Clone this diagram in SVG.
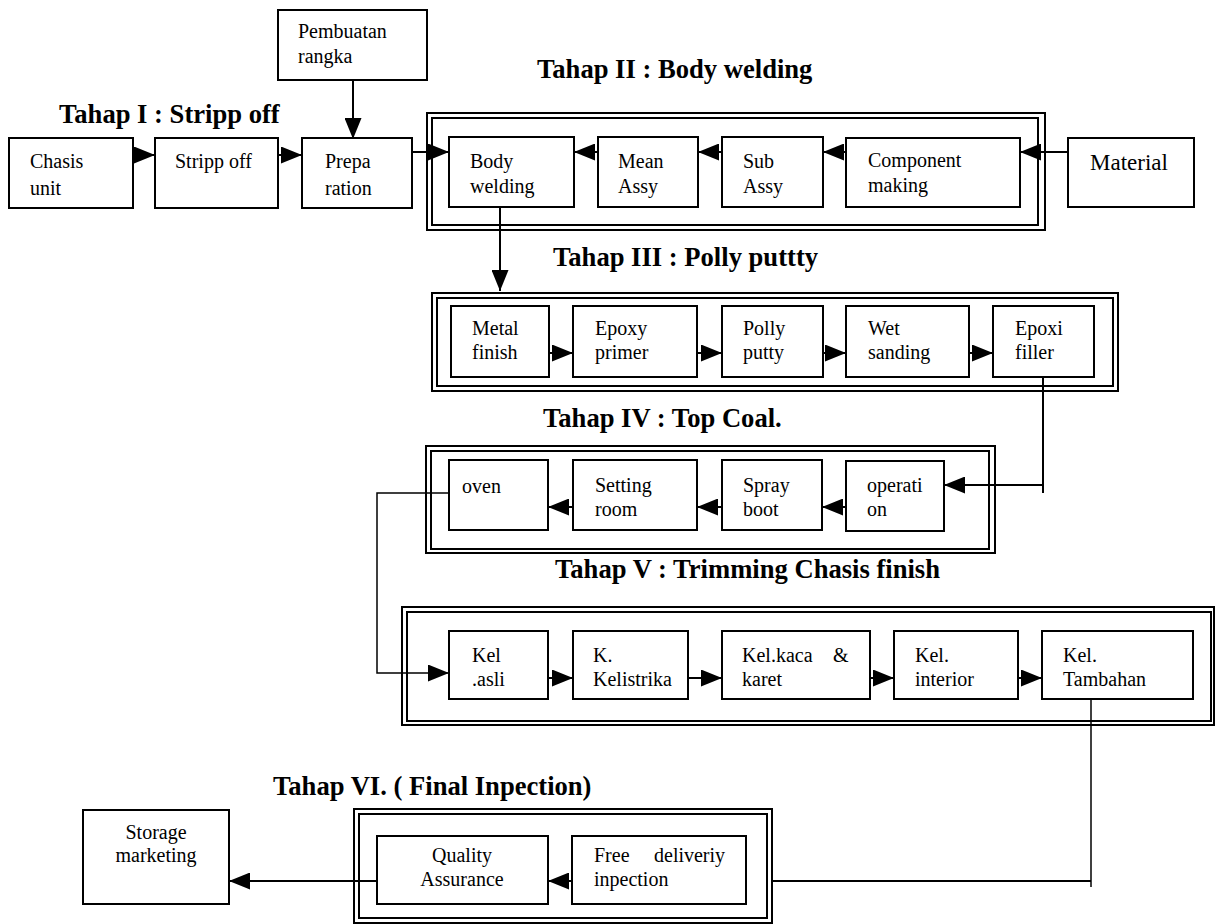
<svg xmlns="http://www.w3.org/2000/svg" width="1216" height="924" viewBox="0 0 1216 924">
  <style>
    .box { fill: #fff; stroke: #000; stroke-width: 2; }
    .frame { fill: none; stroke: #000; stroke-width: 2; }
    .t { font-family: "Liberation Serif", "Times New Roman", serif; font-size: 20px; fill: #000; }
    .big { font-size: 23px; }
    .title { font-family: "Liberation Serif", "Times New Roman", serif; font-size: 26.6px; font-weight: bold; fill: #000; }
    .c { fill: none; stroke: #000; stroke-width: 2; }
    .thin { stroke-width: 1.5; }
  </style>
  <defs>
    <marker id="ah" markerUnits="userSpaceOnUse" markerWidth="21" markerHeight="17" refX="21" refY="8.5" orient="auto">
      <path d="M0,0 L21,8.5 L0,17 z" fill="#000"/>
    </marker>
  </defs>
  <rect width="1216" height="924" fill="#fff"/>

  <!-- stage titles -->
  <g id="titles">
    <text class="title" x="59" y="123">Tahap I : Stripp off</text>
    <text class="title" x="537" y="78">Tahap II : Body welding</text>
    <text class="title" x="553" y="266">Tahap III : Polly puttty</text>
    <text class="title" x="543" y="427">Tahap IV : Top Coal.</text>
    <text class="title" x="555" y="578">Tahap V : Trimming Chasis finish</text>
    <text class="title" x="273" y="795">Tahap VI. ( Final Inpection)</text>
  </g>

  <!-- stage frames (double border) -->
  <g id="frames">
    <rect class="frame" x="427" y="113" width="618" height="117"/>
    <rect class="frame" x="432" y="118" width="606" height="107"/>
    <rect class="frame" x="432" y="293" width="686" height="98"/>
    <rect class="frame" x="437" y="298" width="676" height="88"/>
    <rect class="frame" x="426" y="446" width="569" height="107"/>
    <rect class="frame" x="431" y="451" width="558" height="98"/>
    <rect class="frame" x="402" y="607" width="812" height="118"/>
    <rect class="frame" x="407" y="612" width="804" height="109"/>
    <rect class="frame" x="354" y="809" width="418" height="114"/>
    <rect class="frame" x="359" y="814" width="408" height="104"/>
  </g>

  <!-- connectors -->
  <g id="connectors">
    <line class="c" x1="353" y1="80" x2="353" y2="139" marker-end="url(#ah)"/>
    <line class="c" x1="133" y1="155" x2="155" y2="155" marker-end="url(#ah)"/>
    <line class="c" x1="278" y1="155" x2="302" y2="155" marker-end="url(#ah)"/>
    <line class="c" x1="412" y1="152" x2="449" y2="152" marker-end="url(#ah)"/>
    <line class="c" x1="598" y1="152" x2="574" y2="152" marker-end="url(#ah)"/>
    <line class="c" x1="722" y1="152" x2="698" y2="152" marker-end="url(#ah)"/>
    <line class="c" x1="846" y1="152" x2="823" y2="152" marker-end="url(#ah)"/>
    <line class="c" x1="1068" y1="152" x2="1020" y2="152" marker-end="url(#ah)"/>
    <line class="c" x1="500" y1="207" x2="500" y2="291" marker-end="url(#ah)"/>
    <line class="c" x1="549" y1="353" x2="573" y2="353" marker-end="url(#ah)"/>
    <line class="c" x1="697" y1="353" x2="722" y2="353" marker-end="url(#ah)"/>
    <line class="c" x1="823" y1="353" x2="846" y2="353" marker-end="url(#ah)"/>
    <line class="c" x1="969" y1="353" x2="993" y2="353" marker-end="url(#ah)"/>
    <polyline class="c" points="1043,377 1043,493"/>
    <line class="c" x1="1043" y1="485" x2="944" y2="485" marker-end="url(#ah)"/>
    <line class="c" x1="846" y1="507" x2="822" y2="507" marker-end="url(#ah)"/>
    <line class="c" x1="722" y1="507" x2="697" y2="507" marker-end="url(#ah)"/>
    <line class="c" x1="573" y1="507" x2="548" y2="507" marker-end="url(#ah)"/>
    <polyline class="c thin" points="449,493 377,493 377,673 449,673" marker-end="url(#ah)"/>
    <line class="c" x1="548" y1="678" x2="573" y2="678" marker-end="url(#ah)"/>
    <line class="c" x1="688" y1="678" x2="722" y2="678" marker-end="url(#ah)"/>
    <line class="c" x1="870" y1="678" x2="894" y2="678" marker-end="url(#ah)"/>
    <line class="c" x1="1018" y1="678" x2="1042" y2="678" marker-end="url(#ah)"/>
    <polyline class="c thin" points="1091,699 1091,887"/>
    <line class="c" x1="772" y1="881" x2="1091" y2="881"/>
    <line class="c" x1="572" y1="881" x2="548" y2="881" marker-end="url(#ah)"/>
    <line class="c" x1="377" y1="881" x2="229" y2="881" stroke-width="2.5" marker-end="url(#ah)"/>
  </g>

  <!-- stage I -->
  <g id="n-pembuatan"><rect class="box" x="278" y="10" width="149" height="70"/>
    <text class="t"><tspan x="298" y="38">Pembuatan</tspan><tspan x="298" y="63">rangka</tspan></text></g>
  <g id="n-chasis"><rect class="box" x="9" y="138" width="124" height="70"/>
    <text class="t"><tspan x="30" y="168">Chasis</tspan><tspan x="30" y="195">unit</tspan></text></g>
  <g id="n-stripp"><rect class="box" x="155" y="138" width="123" height="70"/>
    <text class="t" x="175" y="168">Stripp off</text></g>
  <g id="n-prepa"><rect class="box" x="302" y="138" width="110" height="70"/>
    <text class="t"><tspan x="325" y="168">Prepa</tspan><tspan x="325" y="195">ration</tspan></text></g>

  <!-- stage II -->
  <g id="n-bodywelding"><rect class="box" x="449" y="137" width="125" height="70"/>
    <text class="t"><tspan x="470" y="168">Body</tspan><tspan x="470" y="193">welding</tspan></text></g>
  <g id="n-mean"><rect class="box" x="598" y="137" width="100" height="70"/>
    <text class="t"><tspan x="618" y="168">Mean</tspan><tspan x="618" y="193">Assy</tspan></text></g>
  <g id="n-sub"><rect class="box" x="722" y="137" width="101" height="70"/>
    <text class="t"><tspan x="743" y="168">Sub</tspan><tspan x="743" y="193">Assy</tspan></text></g>
  <g id="n-component"><rect class="box" x="846" y="138" width="174" height="69"/>
    <text class="t"><tspan x="868" y="167">Component</tspan><tspan x="868" y="192">making</tspan></text></g>
  <g id="n-material"><rect class="box" x="1068" y="138" width="126" height="69"/>
    <text class="t big" x="1090" y="170">Material</text></g>

  <!-- stage III -->
  <g id="n-metal"><rect class="box" x="451" y="306" width="98" height="71"/>
    <text class="t"><tspan x="472" y="335">Metal</tspan><tspan x="472" y="359">finish</tspan></text></g>
  <g id="n-epoxy"><rect class="box" x="573" y="306" width="124" height="71"/>
    <text class="t"><tspan x="595" y="335">Epoxy</tspan><tspan x="595" y="359">primer</tspan></text></g>
  <g id="n-polly"><rect class="box" x="722" y="306" width="101" height="71"/>
    <text class="t"><tspan x="743" y="335">Polly</tspan><tspan x="743" y="359">putty</tspan></text></g>
  <g id="n-wet"><rect class="box" x="846" y="306" width="123" height="71"/>
    <text class="t"><tspan x="868" y="335">Wet</tspan><tspan x="868" y="359">sanding</tspan></text></g>
  <g id="n-epoxi"><rect class="box" x="993" y="306" width="101" height="71"/>
    <text class="t"><tspan x="1015" y="335">Epoxi</tspan><tspan x="1015" y="359">filler</tspan></text></g>

  <!-- stage IV -->
  <g id="n-oven"><rect class="box" x="449" y="460" width="99" height="70"/>
    <text class="t" x="462" y="493">oven</text></g>
  <g id="n-setting"><rect class="box" x="573" y="460" width="124" height="70"/>
    <text class="t"><tspan x="595" y="492">Setting</tspan><tspan x="595" y="516">room</tspan></text></g>
  <g id="n-spray"><rect class="box" x="722" y="460" width="100" height="70"/>
    <text class="t"><tspan x="743" y="492">Spray</tspan><tspan x="743" y="516">boot</tspan></text></g>
  <g id="n-operation"><rect class="box" x="846" y="461" width="98" height="70"/>
    <text class="t"><tspan x="867" y="492">operati</tspan><tspan x="867" y="516">on</tspan></text></g>

  <!-- stage V -->
  <g id="n-kelasli"><rect class="box" x="449" y="631" width="99" height="68"/>
    <text class="t"><tspan x="472" y="662">Kel</tspan><tspan x="472" y="686">.asli</tspan></text></g>
  <g id="n-kelistrika"><rect class="box" x="573" y="631" width="115" height="68"/>
    <text class="t"><tspan x="593" y="662">K.</tspan><tspan x="593" y="686">Kelistrika</tspan></text></g>
  <g id="n-kaca"><rect class="box" x="722" y="631" width="148" height="68"/>
    <text class="t"><tspan x="742" y="662">Kel.kaca</tspan><tspan x="833" y="662">&amp;</tspan><tspan x="742" y="686">karet</tspan></text></g>
  <g id="n-interior"><rect class="box" x="894" y="631" width="124" height="68"/>
    <text class="t"><tspan x="915" y="662">Kel.</tspan><tspan x="915" y="686">interior</tspan></text></g>
  <g id="n-tambahan"><rect class="box" x="1042" y="631" width="151" height="68"/>
    <text class="t"><tspan x="1063" y="662">Kel.</tspan><tspan x="1063" y="686">Tambahan</tspan></text></g>

  <!-- stage VI -->
  <g id="n-storage"><rect class="box" x="83" y="810" width="146" height="94"/>
    <text class="t" text-anchor="middle"><tspan x="156" y="839">Storage</tspan><tspan x="156" y="862">marketing</tspan></text></g>
  <g id="n-quality"><rect class="box" x="377" y="836" width="171" height="68"/>
    <text class="t" text-anchor="middle"><tspan x="462" y="862">Quality</tspan><tspan x="462" y="886">Assurance</tspan></text></g>
  <g id="n-free"><rect class="box" x="572" y="836" width="174" height="68"/>
    <text class="t"><tspan x="594" y="862">Free</tspan><tspan x="654" y="862">deliveriy</tspan><tspan x="594" y="886">inpection</tspan></text></g>
</svg>
